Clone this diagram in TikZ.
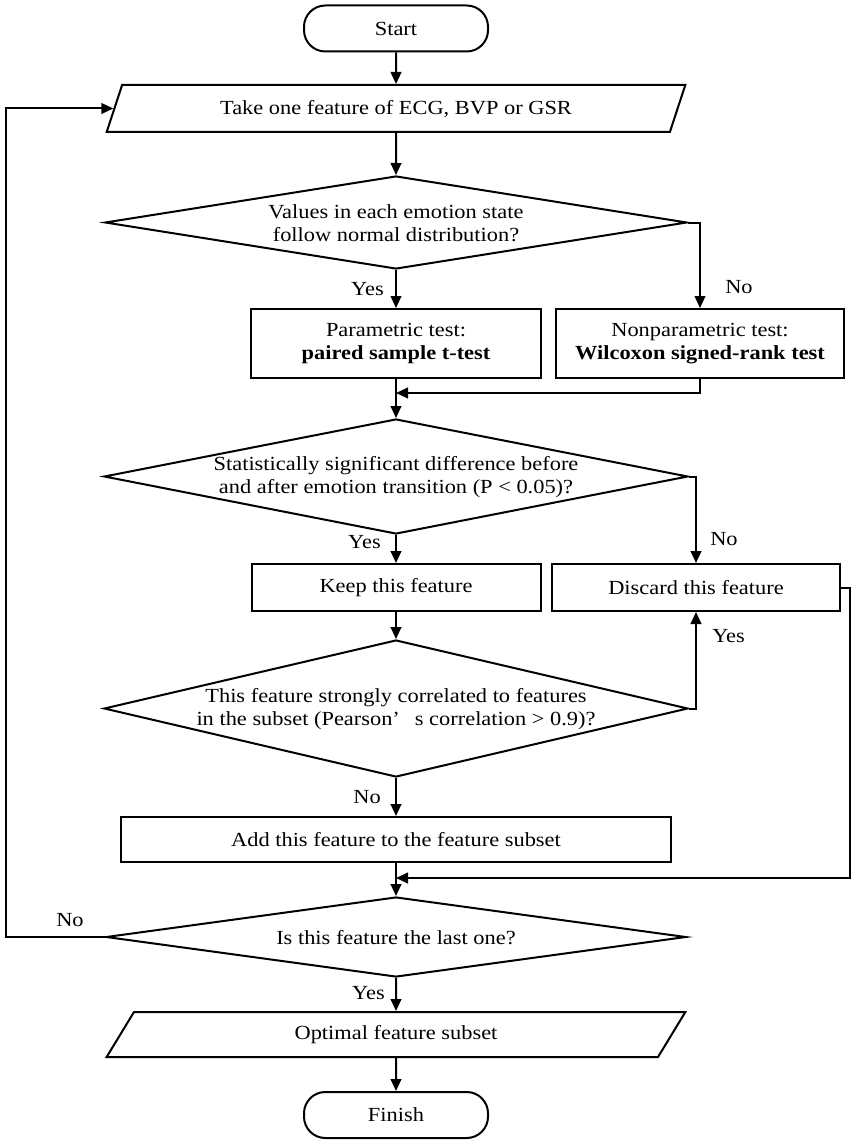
\documentclass[tikz,border=0pt]{standalone}
\usepackage{fontspec}
\setmainfont{Liberation Serif}[FakeStretch=1.12]
\usetikzlibrary{shapes.geometric,arrows.meta}
\begin{document}
\begin{tikzpicture}[x=0.75pt,y=-0.75pt,
  every node/.style={font=\fontsize{15}{17.5}\selectfont},
  arr/.style={line width=1.5pt,-{Triangle[length=9pt,width=8pt]}},
  box/.style={draw,line width=1.5pt,rectangle,inner sep=0pt,align=center},
  term/.style={box,rounded corners=16pt,minimum width=138pt,minimum height=34.5pt},
  io/.style={draw,line width=1.5pt,trapezium,trapezium left angle=60,trapezium right angle=120,trapezium stretches=true,inner sep=0pt,minimum width=434.25pt,align=center},
  dec/.style={draw,line width=1.5pt,diamond,inner sep=0pt},
  dectext/.style={inner sep=0pt,align=center},
  lab/.style={inner sep=0pt}
]
\useasboundingbox (0,0) rectangle (857,1145);

% nodes
\node[term] (start) at (396,28.5) {Start};
\node[io,minimum height=35.25pt] (in1) at (396,108.5) {Take one feature of ECG, BVP or GSR};

\node[dec,minimum width=436.5pt,minimum height=69.75pt] (d1) at (396,222.5) {};
\node[dectext] (d1t) at (396,223.5) {Values in each emotion state\\follow normal distribution?};

\node[box,minimum width=217.5pt,minimum height=51.75pt] (bp) at (396,343.5) {Parametric test:\\\textbf{paired sample t-test}};
\node[box,minimum width=216pt,minimum height=51.75pt] (bw) at (700,343.5) {Nonparametric test:\\\textbf{Wilcoxon signed-rank test}};

\node[dec,minimum width=438pt,minimum height=86.25pt] (d2) at (396,476.5) {};
\node[dectext] (d2t) at (396,477) {Statistically significant difference before\\and after emotion transition (P < 0.05)?};

\node[box,minimum width=216.75pt,minimum height=35.25pt] (keep) at (396,587.5) {Keep this feature};
\node[box,minimum width=216pt,minimum height=35.25pt] (disc) at (696,587.5) {Discard this feature};

\node[dec,minimum width=438pt,minimum height=102.75pt] (d3) at (396,708.5) {};
\node[dectext] (d3t) at (396,709) {This feature strongly correlated to features\\in the subset (Pearson’\hspace{0.75em}s correlation > 0.9)?};

\node[box,minimum width=412.5pt,minimum height=33.75pt] (add) at (396,839.5) {Add this feature to the feature subset};

\node[dec,minimum width=435pt,minimum height=60pt] (d4) at (396,937) {};
\node[dectext] (d4t) at (396,938) {Is this feature the last one?};

\node[io,minimum height=33.75pt] (in2) at (396,1034.5) {Optimal feature subset};
\node[term] (finish) at (396,1115) {Finish};

% helper coordinates
\coordinate (m1) at (396,393);
\coordinate (r2) at (850,878);
\coordinate (m2) at (396,878);
\coordinate (lx) at (6,937);

% connectors
\draw[arr] (start.south) -- (in1.north);
\draw[arr] (in1.south) -- (d1.north);
\draw[arr] (d1.south) -- (bp.north);
\draw[arr] (d1.east) -| (bw.north);
\draw[arr] (bp.south) -- (d2.north);
\draw[arr] (bw.south) |- (m1);
\draw[arr] (d2.south) -- (keep.north);
\draw[arr] (d2.east) -| (disc.north);
\draw[arr] (keep.south) -- (d3.north);
\draw[arr] (d3.east) -| (disc.south);
\draw[arr] (d3.south) -- (add.north);
\draw[arr] (add.south) -- (d4.north);
\draw[arr] (disc.east) -| (r2) -- (m2);
\draw[arr] (d4.west) -- (lx) |- (in1.west);
\draw[arr] (d4.south) -- (in2.north);
\draw[arr] (in2.south) -- (finish.north);

% labels
\node[lab,anchor=east] (y1) at (384,289) {Yes};
\node[lab,anchor=west] (n1) at (725,287) {No};
\node[lab,anchor=east] (y2) at (381,542) {Yes};
\node[lab,anchor=west] (n2) at (710,539) {No};
\node[lab,anchor=west] (y3) at (712,636) {Yes};
\node[lab,anchor=east] (n3) at (381,797) {No};
\node[lab,anchor=east] (y4) at (385,993) {Yes};
\node[lab] (n4) at (70,920) {No};
\end{tikzpicture}
\end{document}
